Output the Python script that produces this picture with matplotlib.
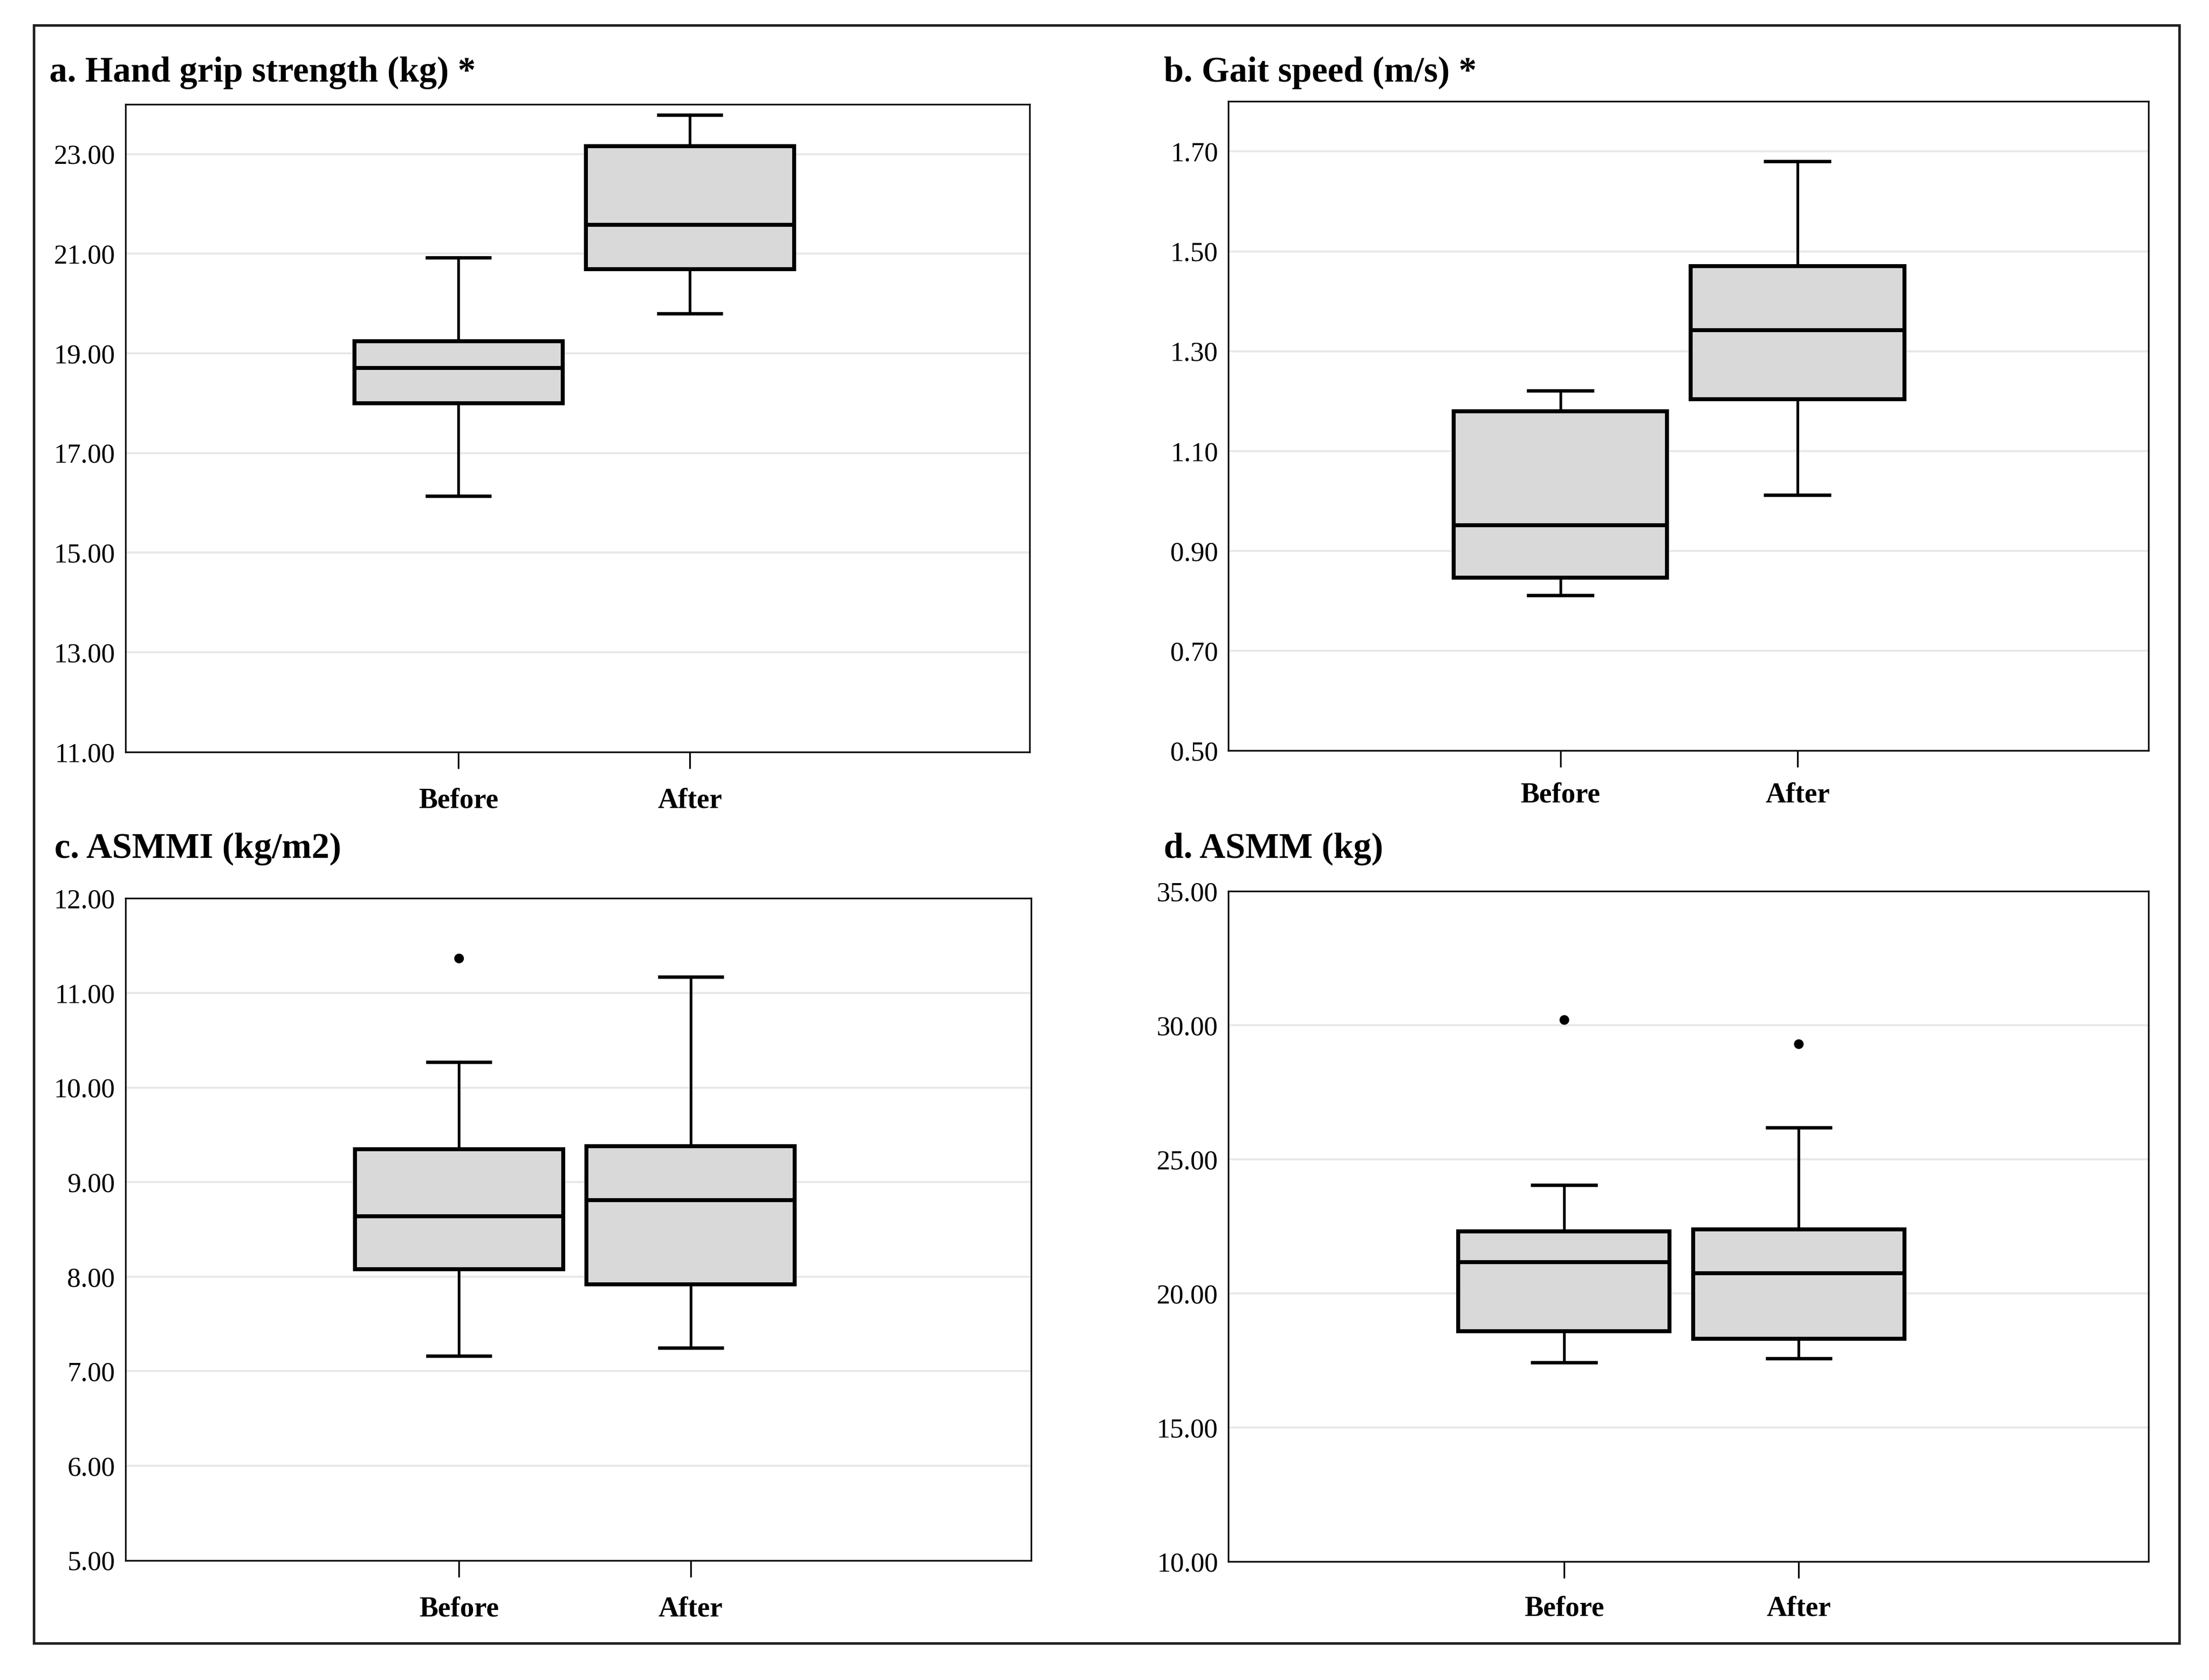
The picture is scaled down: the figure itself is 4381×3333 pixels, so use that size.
import matplotlib
matplotlib.use("Agg")
import matplotlib.pyplot as plt
from matplotlib.patches import Rectangle
import numpy as np

plt.rcParams['font.family'] = ['Liberation Serif', 'DejaVu Serif']

groups = ["Before", "After"]

titles = ["a. Hand grip strength (kg) *", "b. Gait speed (m/s) *",
          "c. ASMMI (kg/m2)", "d. ASMM (kg)"]

# per-panel box statistics [Before, After]
grip_q1 = [18.00, 20.69]
grip_med = [18.71, 21.58]
grip_q3 = [19.24, 23.16]
grip_lo = [16.14, 19.80]
grip_hi = [20.92, 23.78]
grip_fliers = [[], []]

gait_q1 = [0.846, 1.204]
gait_med = [0.951, 1.342]
gait_q3 = [1.180, 1.470]
gait_lo = [0.811, 1.012]
gait_hi = [1.221, 1.680]
gait_fliers = [[], []]

asmmi_q1 = [8.08, 7.92]
asmmi_med = [8.64, 8.81]
asmmi_q3 = [9.35, 9.38]
asmmi_lo = [7.16, 7.25]
asmmi_hi = [10.27, 11.17]
asmmi_fliers = [[11.37], []]

asmm_q1 = [18.60, 18.31]
asmm_med = [21.17, 20.76]
asmm_q3 = [22.32, 22.39]
asmm_lo = [17.43, 17.59]
asmm_hi = [24.05, 26.19]
asmm_fliers = [[30.22], [29.32]]

ylims = [(11, 24), (0.5, 1.8), (5, 12), (10, 35)]
yticks = [np.arange(11, 23.5, 2), np.arange(0.5, 1.75, 0.2),
          np.arange(5, 12.5, 1), np.arange(10, 35.5, 5)]

panels = [
    (grip_q1, grip_med, grip_q3, grip_lo, grip_hi, grip_fliers),
    (gait_q1, gait_med, gait_q3, gait_lo, gait_hi, gait_fliers),
    (asmmi_q1, asmmi_med, asmmi_q3, asmmi_lo, asmmi_hi, asmmi_fliers),
    (asmm_q1, asmm_med, asmm_q3, asmm_lo, asmm_hi, asmm_fliers),
]

W, H = 4381, 3333
dpi = 300
fig = plt.figure(figsize=(W / dpi, H / dpi), dpi=dpi)

# axes rectangles in figure fraction [left, bottom, width, height]
rects = [
    [0.0568, 0.5524, 0.4094, 0.3856],
    [0.5561, 0.5532, 0.4165, 0.3864],
    [0.0568, 0.0712, 0.4100, 0.3940],
    [0.5561, 0.0704, 0.4165, 0.3990],
]
title_pos = [(0.0224, 0.9514), (0.5268, 0.9514), (0.0247, 0.4896), (0.5268, 0.4896)]
xlims = [(-0.44, 3.47), (-0.40, 3.48), (-0.44, 3.47), (-0.43, 3.49)]
xpads = [9, 7, 9, 8]

for i, (q1, med, q3, lo, hi, fl) in enumerate(panels):
    ax = fig.add_axes(rects[i])
    stats = []
    for j in range(2):
        stats.append(dict(q1=q1[j], med=med[j], q3=q3[j], whislo=lo[j],
                          whishi=hi[j], fliers=fl[j], label=groups[j]))
    ax.bxp(stats, positions=[1, 2], widths=0.9, capwidths=0.27,
           patch_artist=True, showfliers=True,
           boxprops=dict(facecolor='#d9d9d9', edgecolor='black', linewidth=1.9),
           medianprops=dict(color='black', linewidth=1.9),
           whiskerprops=dict(color='black', linewidth=1.3),
           capprops=dict(color='black', linewidth=1.6),
           flierprops=dict(marker='o', markersize=3.6, markerfacecolor='black',
                           markeredgecolor='black'))
    ax.set_xlim(*xlims[i])
    ax.set_ylim(*ylims[i])
    ax.set_yticks(yticks[i])
    ax.set_yticklabels([f"{v:.2f}" for v in yticks[i]])
    ax.set_axisbelow(True)
    ax.yaxis.grid(True, color='#e8e8e8', linewidth=1.0)
    ax.xaxis.grid(False)
    ax.tick_params(axis='y', length=0, pad=5, labelsize=13)
    ax.tick_params(axis='x', length=8, width=0.8, pad=xpads[i], labelsize=13.5)
    for lab in ax.get_xticklabels():
        lab.set_fontweight('bold')
    for s in ax.spines.values():
        s.set_linewidth(0.8)
        s.set_color('#111111')
    fig.text(title_pos[i][0], title_pos[i][1], titles[i], fontsize=17,
             fontweight='bold', ha='left', va='baseline')

frame = Rectangle((0.0153, 0.0218), 0.9713, 0.9631, transform=fig.transFigure,
                  fill=False, edgecolor='#222222', linewidth=1.2)
fig.patches.append(frame)

fig.savefig("out.png", dpi=dpi, facecolor='white')
